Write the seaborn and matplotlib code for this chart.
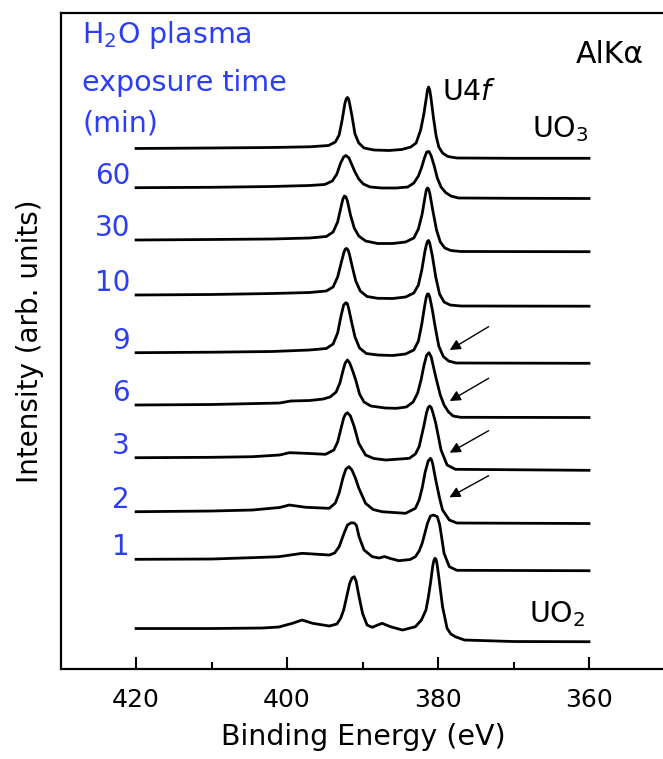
import numpy as np
import pandas as pd
import matplotlib
matplotlib.use("Agg")
import matplotlib.pyplot as plt
import seaborn as sns

# ---------------- data (binding energy in eV, intensity in arb. units, stacked) ----------------
be_uo3 = [420, 410, 402, 397, 394.5, 393.6, 393.1, 392.7, 392.35, 392.17, 392.0, 391.85, 391.7, 391.4,
          391.0, 390.5, 389.8, 388.5, 386.5, 384.8, 383.6, 382.9, 382.3, 381.9, 381.55, 381.4, 381.25,
          381.1, 380.95, 380.6, 380.25, 379.9, 379.4, 378.7, 377.5, 370, 360]
int_uo3 = [551.5, 552, 552.5, 553.2, 554.5, 558, 565, 580, 596, 601, 602.5, 601, 596, 584,
           566, 557, 552, 550, 549.5, 550.5, 553, 557, 570, 585, 602, 610, 613,
           610, 603, 582, 564, 553, 547, 543.5, 542, 541.7, 541.7]

be_60 = [420, 410, 402, 397, 395, 394.0, 393.4, 392.9, 392.5, 392.2, 391.8, 391.4, 391.0, 390.5,
         389.9, 389.0, 387.5, 385.5, 384.0, 383.2, 382.6, 382.2, 381.8, 381.5, 381.2, 380.9, 380.5,
         380.1, 379.6, 379.0, 378.3, 377.3, 370, 360]
int_60 = [512.3, 512.7, 513.5, 514.5, 515.5, 519, 526, 537, 543, 544.5, 542, 535, 528, 521,
          516, 513, 512, 512, 513, 517, 524, 532, 542, 548, 548.5, 544, 534,
          522, 513, 507.5, 504, 502, 501.7, 501.5]

be_30 = [420, 410, 402, 397, 394.8, 393.9, 393.3, 392.85, 392.6, 392.4, 392.2, 392.0, 391.6, 391.1,
         390.5, 389.6, 388.0, 386.0, 384.3, 383.2, 382.6, 382.1, 381.7, 381.55, 381.4, 381.25, 381.1,
         380.7, 380.2, 379.7, 379.1, 378.3, 377, 360]
int_30 = [460, 460.5, 461, 462, 463.5, 468, 478, 493, 501, 504, 503, 499, 485, 472,
          464, 459, 456.5, 456.5, 458, 462, 471, 486, 504, 510, 512, 511, 507,
          490, 470, 458, 452, 449.5, 448.5, 448.3]

be_10 = [420, 410, 402, 397, 394.8, 393.9, 393.3, 392.8, 392.45, 392.28, 392.1, 391.92, 391.75, 391.35,
         390.9, 390.3, 389.4, 388.0, 386.0, 384.3, 383.2, 382.6, 382.15, 381.75, 381.55, 381.4, 381.25,
         381.1, 380.75, 380.3, 379.8, 379.2, 378.4, 377, 360]
int_10 = [405, 405.5, 406.5, 407.5, 409, 413, 423, 438, 448, 451, 451.5, 450, 446, 433,
          419, 409, 403.5, 401.7, 401.5, 403, 407, 415, 430, 448, 455, 458.5, 459.5,
          457, 444, 423, 406, 398, 395, 394, 393.8]

be_9 = [420, 410, 402, 397, 394.8, 393.9, 393.3, 392.85, 392.5, 392.2, 392.02, 391.85, 391.45, 391.0,
        390.4, 389.5, 388.0, 386.0, 384.3, 383.2, 382.6, 382.15, 381.75, 381.55, 381.4, 381.25, 381.1,
        380.75, 380.35, 379.9, 379.3, 378.6, 377.6, 360]
int_9 = [347.3, 347.8, 348.5, 350, 351.5, 356, 367, 384, 395, 397.3, 396.5, 392, 378, 363,
         352, 346.5, 345, 344.5, 346, 350, 359, 376, 395, 403, 406, 406, 403,
         390, 372, 354, 343.5, 339, 337, 336.7]

be_6 = [420, 410, 401, 399.5, 397, 395.2, 394.3, 393.5, 393.0, 392.6, 392.3, 392.0, 391.7, 391.3,
        390.9, 390.4, 389.8, 388.9, 387.0, 385.5, 384.2, 383.3, 382.7, 382.25, 381.85, 381.5, 381.2,
        380.9, 380.6, 380.2, 379.7, 379.2, 378.6, 378.0, 377, 360]
int_6 = [295, 295.5, 297, 299, 299.5, 301, 303, 308, 317, 329, 337, 340, 337, 329,
         320, 306, 298, 294, 292, 291.7, 293, 298, 307, 320, 335, 345, 347.3,
         343, 333, 320, 305, 295, 288, 284, 282.7, 282.5]

be_3 = [420, 410, 404.6, 401, 399.7, 397.5, 394.9, 393.8, 393.3, 392.9, 392.5, 392.25, 392.0, 391.6,
        391.1, 390.5, 389.6, 388.5, 386.9, 383.8, 383.0, 382.5, 381.9, 381.5, 381.3, 381.1, 380.9,
        380.7, 380.3, 379.6, 378.8, 377.7, 360]
int_3 = [242.3, 242.7, 243.3, 245, 247.3, 246.7, 245.7, 250, 258, 270, 282, 286, 287.3, 284,
         273.3, 256.7, 245, 241.5, 240, 241.7, 246, 253.3, 273.3, 288, 292.5, 294, 292.5,
         288, 276.7, 250, 235, 230.7, 229.7]

be_2 = [420, 410, 404.6, 401.0, 399.7, 397.5, 394.4, 393.6, 393.1, 392.6, 392.2, 391.8, 391.4, 390.95,
        390.5, 389.6, 388.6, 387.4, 384.3, 383.0, 382.5, 382.1, 381.7, 381.3, 381.0, 380.85, 380.7,
        380.3, 379.8, 379.4, 378.5, 377.5, 360]
int_2 = [188.3, 189, 190, 192.5, 195, 192.7, 191.7, 197, 207, 222, 231, 233.3, 230, 222,
         212, 196.7, 190.5, 188.3, 186.7, 191.7, 200, 212, 228, 239, 241.7, 240, 236,
         220, 202, 190, 180, 177, 176.5]

be_1 = [420, 410, 404, 401.1, 398.0, 396.5, 394.4, 393.7, 393.1, 392.45, 392.0, 391.5, 391.1, 390.8,
        390.46, 389.8, 388.7, 387.8, 387.1, 386.3, 385.2, 383.7, 383.0, 382.5, 382.1, 381.7, 381.4,
        381.0, 380.6, 380.1, 379.8, 379.6, 379.2, 378.5, 377.5, 360]
int_1 = [140.7, 141, 142.5, 143.3, 146.7, 146, 145, 147, 153.3, 166.7, 175, 177.3, 177, 174.5,
         163.3, 150, 143.3, 142, 143.5, 141.5, 139.3, 140.5, 143.3, 149, 156.7, 168, 176.7,
         184, 185, 183.3, 176, 166.7, 146.7, 133.3, 129.7, 129.3]

be_uo2 = [420, 410, 403.3, 401.1, 399.3, 398.0, 396.6, 394.4, 393.4, 392.9, 392.5, 392.2, 391.7, 391.4,
          391.1, 390.85, 390.55, 390.0, 389.4, 388.7, 388.0, 387.4, 386.3, 384.7, 383.0, 382.2, 381.6,
          381.3, 381.0, 380.7, 380.55, 380.4, 380.28, 380.15, 379.9, 379.4, 378.8, 378.3, 377.7,
          376.5, 370, 360]
int_uo2 = [71.5, 71.5, 72, 73, 76.7, 80, 76.7, 74, 76, 81.7, 90, 100, 116.7, 122,
           123.3, 119, 106.7, 86.7, 75, 72.7, 75, 76.7, 73.3, 70, 73.3, 80, 90,
           102, 116.7, 134, 139.5, 141.7, 141, 137, 123.3, 93.3, 71.7, 66, 63.3,
           60, 58.5, 58.3]

sample_names = ["UO3", "60", "30", "10", "9", "6", "3", "2", "1", "UO2"]
sample_be = [be_uo3, be_60, be_30, be_10, be_9, be_6, be_3, be_2, be_1, be_uo2]
sample_int = [int_uo3, int_60, int_30, int_10, int_9, int_6, int_3, int_2, int_1, int_uo2]
exposure_labels = ["60", "30", "10", "9", "6", "3", "2", "1"]

# arrows marking the low-BE shoulder (tail -> head, eV / arb. units)
arrow_tail_be = [373.3, 373.3, 373.3, 373.3]
arrow_tail_int = [373.3, 321.7, 269.3, 224.3]
arrow_head_be = [378.45, 378.45, 378.45, 378.5]
arrow_head_int = [350.0, 299.0, 247.3, 202.7]

x_ticks = [420, 400, 380, 360]
x_minor = [410, 390, 370]

# ---------------- build frame ----------------
rows = []
for name, be, it in zip(sample_names, sample_be, sample_int):
    for e, v in zip(be, it):
        rows.append({"sample": name, "be": e, "intensity": v})
df = pd.DataFrame(rows)

BLUE = "#2b3ef5"

fig = plt.figure(figsize=(6.63, 7.59), dpi=100)
ax = fig.add_axes([0.0914, 0.1192, 0.9131, 0.8637])

sns.lineplot(data=df, x="be", y="intensity", units="sample", estimator=None,
             color="black", linewidth=2.0, ax=ax, legend=False)

ax.set_xlim(430, 349.8)
ax.set_ylim(31.5, 687)

ax.set_xticks(x_ticks)
ax.set_xticks(x_minor, minor=True)
ax.set_yticks([])
ax.tick_params(axis="x", which="major", direction="in", length=9, width=1.5,
               labelsize=18, pad=14, top=False)
ax.tick_params(axis="x", which="minor", direction="in", length=5, width=1.5, top=False)
for s in ax.spines.values():
    s.set_linewidth(1.6)

ax.set_xlabel("Binding Energy (eV)", fontsize=20.5, labelpad=8)
ax.set_ylabel("Intensity (arb. units)", fontsize=20, labelpad=12)

# exposure-time labels
ax.text(427.15, 657.3, "H$_2$O plasma", color=BLUE, fontsize=20.5, ha="left", va="baseline")
ax.text(427.15, 609.3, "exposure time", color=BLUE, fontsize=20.5, ha="left", va="baseline")
ax.text(427.15, 568.3, "(min)", color=BLUE, fontsize=20.5, ha="left", va="baseline")
for name, it in zip(sample_names, sample_int):
    if name in exposure_labels:
        ax.text(420.8, it[0] + 4, name, color=BLUE, fontsize=20, ha="right", va="baseline")

ax.text(352.7, 636.7, "AlK\u03b1", color="black", fontsize=21.5, ha="right", va="baseline")
ax.text(379.43, 600, r"U$\mathit{4f}$", color="black", fontsize=20.5, ha="left", va="baseline")
ax.text(367.5, 562.7, "UO$_3$", color="black", fontsize=20.5, ha="left", va="baseline")
ax.text(368.0, 78.3, "UO$_2$", color="black", fontsize=20.5, ha="left", va="baseline")

for tb, ti, hb, hi in zip(arrow_tail_be, arrow_tail_int, arrow_head_be, arrow_head_int):
    ax.annotate("", xy=(hb, hi), xytext=(tb, ti),
                arrowprops=dict(arrowstyle="-|>", color="black", lw=1.0,
                                mutation_scale=16, shrinkA=0, shrinkB=0))

fig.savefig("out.png", dpi=100)
